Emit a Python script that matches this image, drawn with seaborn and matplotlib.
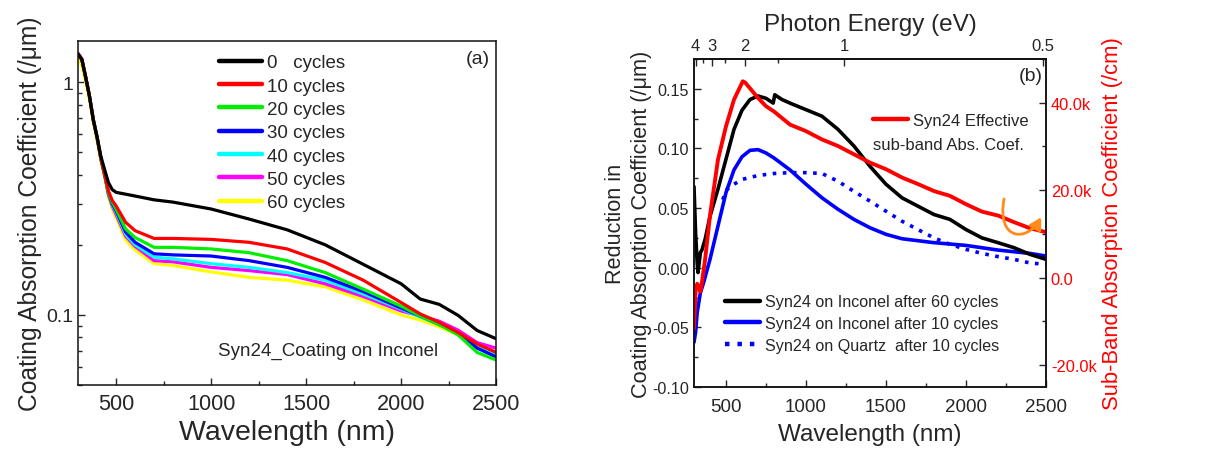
import numpy as np
import pandas as pd
import matplotlib
matplotlib.use("Agg")
import matplotlib.pyplot as plt
from matplotlib.ticker import FixedLocator, NullFormatter, LogLocator, MultipleLocator, FuncFormatter
from matplotlib.patches import FancyArrowPatch
from matplotlib.path import Path
import seaborn as sns

# ---------------- data: panel (a) ----------------
wl_a = [300, 320, 340, 360, 380, 400, 420, 440, 460, 480, 500, 550, 600, 700, 800,
        1000, 1200, 1400, 1600, 1800, 2000, 2100, 2200, 2300, 2400, 2500]
cyc0 = [1.32, 1.25, 1.05, 0.87, 0.69, 0.58, 0.48, 0.42, 0.37, 0.345, 0.336, 0.33, 0.324, 0.312, 0.305,
        0.285, 0.258, 0.232, 0.200, 0.165, 0.136, 0.117, 0.111, 0.0995, 0.0857, 0.079]
cyc10 = [1.32, 1.25, 1.05, 0.87, 0.69, 0.58, 0.47, 0.40, 0.34, 0.31, 0.294, 0.25, 0.23, 0.213, 0.213,
         0.211, 0.205, 0.192, 0.168, 0.141, 0.113, 0.101, 0.093, 0.084, 0.075, 0.069]
cyc20 = [1.32, 1.25, 1.05, 0.87, 0.69, 0.58, 0.47, 0.40, 0.335, 0.305, 0.285, 0.234, 0.215, 0.195, 0.195,
         0.192, 0.185, 0.171, 0.152, 0.129, 0.109, 0.099, 0.091, 0.082, 0.069, 0.064]
cyc30 = [1.32, 1.25, 1.05, 0.87, 0.69, 0.58, 0.47, 0.40, 0.333, 0.30, 0.28, 0.227, 0.205, 0.183, 0.181,
         0.179, 0.171, 0.160, 0.145, 0.126, 0.107, 0.099, 0.091, 0.083, 0.072, 0.066]
cyc40 = [1.32, 1.25, 1.05, 0.87, 0.69, 0.58, 0.47, 0.40, 0.33, 0.297, 0.276, 0.222, 0.200, 0.177, 0.174,
         0.166, 0.160, 0.152, 0.141, 0.123, 0.106, 0.098, 0.091, 0.083, 0.074, 0.068]
cyc50 = [1.33, 1.26, 1.05, 0.87, 0.69, 0.58, 0.47, 0.40, 0.328, 0.293, 0.27, 0.218, 0.197, 0.171, 0.169,
         0.160, 0.155, 0.149, 0.136, 0.120, 0.104, 0.099, 0.094, 0.086, 0.076, 0.072]
cyc60 = [1.25, 1.18, 1.0, 0.84, 0.67, 0.56, 0.46, 0.39, 0.32, 0.285, 0.262, 0.21, 0.190, 0.166, 0.163,
         0.153, 0.145, 0.141, 0.132, 0.116, 0.100, 0.095, 0.089, 0.082, 0.074, 0.069]
labels_a = ["0   cycles", "10 cycles", "20 cycles", "30 cycles", "40 cycles", "50 cycles", "60 cycles"]
colors_a = ["#000000", "#ff0000", "#00ee00", "#0000ff", "#00ffff", "#ff00ff", "#ffff00"]

# ---------------- data: panel (b) ----------------
wl_black = [300, 310, 320, 325, 340, 350, 370, 400, 450, 500, 550, 600, 650, 700, 750, 795, 805, 850, 900,
            1000, 1100, 1200, 1300, 1400, 1500, 1600, 1700, 1800, 1900, 2000, 2100, 2200, 2300, 2400, 2500]
inconel60 = [0.068, 0.029, 0.004, -0.004, 0.0126, 0.015, 0.024, 0.043, 0.066, 0.091, 0.116, 0.132, 0.141, 0.144,
             0.142, 0.138, 0.145, 0.141, 0.138, 0.1325, 0.127, 0.116, 0.102, 0.085, 0.070, 0.0586, 0.0516,
             0.0446, 0.0405, 0.032, 0.025, 0.021, 0.0168, 0.0112, 0.007]
wl_blue = [300, 310, 320, 340, 360, 400, 450, 500, 550, 600, 650, 700, 750, 800, 900, 1000, 1100, 1200,
           1300, 1400, 1500, 1600, 1800, 2000, 2200, 2400, 2500]
inconel10 = [-0.0626, -0.054, -0.0375, -0.021, -0.0125, 0.007, 0.035, 0.063, 0.082, 0.093, 0.0984, 0.099,
             0.0962, 0.092, 0.082, 0.070, 0.0586, 0.049, 0.0405, 0.0335, 0.028, 0.0243, 0.021, 0.0187,
             0.0148, 0.012, 0.0098]
wl_quartz = [480, 500, 550, 600, 700, 800, 900, 1000, 1100, 1200, 1300, 1400, 1500, 1600, 1700, 1800,
             1900, 2000, 2100, 2200, 2300, 2400, 2500]
quartz10 = [0.057, 0.065, 0.070, 0.074, 0.0773, 0.079, 0.0797, 0.0797, 0.079, 0.0725, 0.064, 0.0558, 0.0474,
            0.039, 0.032, 0.025, 0.0196, 0.0154, 0.012, 0.0093, 0.007, 0.004, 0.0028]
wl_red = [300, 310, 320, 330, 340, 350, 370, 400, 450, 500, 550, 605, 620, 650, 700, 750, 800, 900, 1000,
          1100, 1200, 1300, 1400, 1500, 1600, 1700, 1800, 1900, 2000, 2100, 2200, 2300, 2400, 2500]
subband = [-11600, -3250, -1400, -2000, -3200, -1000, 4300, 14200, 27000, 34600, 40700, 44900, 44600, 43300,
           41100, 39200, 38000, 35000, 33500, 31600, 30100, 28200, 26300, 24800, 22900, 21400, 19800, 18700,
           16800, 15100, 14200, 12700, 11300, 10400]
energy_ticks = [4, 3, 2, 1, 0.5]
energy_minor = [3.5, 2.5, 1.5]

# ---------------- style ----------------
sns.set_style("ticks")
plt.rcParams["font.family"] = ["Liberation Sans", "DejaVu Sans"]
plt.rcParams["xtick.direction"] = "in"
plt.rcParams["ytick.direction"] = "in"
plt.rcParams["axes.linewidth"] = 1.1
plt.rcParams["axes.edgecolor"] = "#111111"

fig = plt.figure(figsize=(12.12, 4.52), dpi=100)
ax1 = fig.add_axes([0.0644, 0.146, 0.345, 0.761])
ax2 = fig.add_axes([0.5726, 0.1416, 0.2904, 0.7257])

# ---------------- panel (a) ----------------
rows = []
for lab, vals in zip(labels_a, [cyc0, cyc10, cyc20, cyc30, cyc40, cyc50, cyc60]):
    for w, v in zip(wl_a, vals):
        rows.append({"wl": w, "val": v, "series": lab})
df_a = pd.DataFrame(rows)
for lab in labels_a[::-1]:
    sub = df_a[df_a.series == lab]
    sns.lineplot(data=sub, x="wl", y="val", ax=ax1, color=colors_a[labels_a.index(lab)],
                 lw=2.3, estimator=None, sort=False, label=lab)
ax1.set_yscale("log")
ax1.set_xlim(300, 2500)
ax1.set_ylim(0.05, 1.5)
ax1.yaxis.set_major_locator(FixedLocator([0.1, 1]))
ax1.yaxis.set_major_formatter(FuncFormatter(lambda v, p: "1" if v >= 1 else "0.1"))
ax1.yaxis.set_minor_locator(LogLocator(base=10, subs=np.arange(2, 10)))
ax1.yaxis.set_minor_formatter(NullFormatter())
ax1.xaxis.set_major_locator(FixedLocator([500, 1000, 1500, 2000, 2500]))
ax1.xaxis.set_minor_locator(MultipleLocator(250))
ax1.tick_params(axis="x", which="major", labelsize=15.6, length=5, width=1, pad=6)
ax1.tick_params(axis="y", which="major", labelsize=14, length=5, width=1)
ax1.tick_params(axis="both", which="minor", length=3, width=1)
ax1.set_xlabel("Wavelength (nm)", fontsize=20.5, labelpad=3)
ax1.set_ylabel("Coating Absorption Coefficient (/μm)", fontsize=17.7, labelpad=3)
h, l = ax1.get_legend_handles_labels()
hd = dict(zip(l, h))
leg = ax1.legend([hd[k] for k in labels_a], labels_a, loc="upper left", bbox_to_anchor=(0.305, 1.0),
                 frameon=False, fontsize=13.5, handlelength=2.3, handletextpad=0.3, labelspacing=0.33,
                 borderaxespad=0.3)
for lh in leg.get_lines():
    lh.set_linewidth(3.2)
ax1.text(0.985, 0.975, "(a)", transform=ax1.transAxes, ha="right", va="top", fontsize=14)
ax1.text(0.335, 0.075, "Syn24_Coating on Inconel", transform=ax1.transAxes, ha="left", va="bottom",
         fontsize=13.5)

# ---------------- panel (b) ----------------
sns.lineplot(x=wl_quartz, y=quartz10, ax=ax2, color="#0000ff", lw=2.6, linestyle=(0, (1, 1.8)),
             estimator=None, sort=False, label="Syn24 on Quartz  after 10 cycles")
sns.lineplot(x=wl_blue, y=inconel10, ax=ax2, color="#0000ff", lw=2.6, estimator=None, sort=False,
             label="Syn24 on Inconel after 10 cycles")
sns.lineplot(x=wl_black, y=inconel60, ax=ax2, color="#000000", lw=2.6, estimator=None, sort=False,
             label="Syn24 on Inconel after 60 cycles")
ax2.set_xlim(300, 2500)
ax2.set_ylim(-0.10, 0.175)
ax2.yaxis.set_major_locator(MultipleLocator(0.05))
ax2.yaxis.set_minor_locator(MultipleLocator(0.025))
ax2.yaxis.set_major_formatter(FuncFormatter(lambda v, p: f"{v:.2f}"))
ax2.xaxis.set_major_locator(FixedLocator([500, 1000, 1500, 2000, 2500]))
ax2.xaxis.set_minor_locator(MultipleLocator(250))
ax2.tick_params(axis="x", which="major", labelsize=13.5, length=5, width=1, pad=8)
ax2.tick_params(axis="y", which="major", labelsize=11.6, length=5, width=1)
ax2.tick_params(axis="both", which="minor", length=3, width=1)
ax2.set_xlabel("Wavelength (nm)", fontsize=17.5, labelpad=6)
ax2.set_ylabel("Reduction in\nCoating Absorption Coefficient (/μm)", fontsize=15.6, labelpad=0,
               linespacing=1.3)
h2, l2 = ax2.get_legend_handles_labels()
order_b = ["Syn24 on Inconel after 60 cycles", "Syn24 on Inconel after 10 cycles",
           "Syn24 on Quartz  after 10 cycles"]
d2 = dict(zip(l2, h2))
leg2 = ax2.legend([d2[k] for k in order_b], order_b, loc="lower left", bbox_to_anchor=(0.06, 0.075),
                  frameon=False, fontsize=11.6, handlelength=2.2, handletextpad=0.3, labelspacing=0.42,
                  borderaxespad=0.2)
for lh in leg2.get_lines():
    lh.set_linewidth(3.2)
ax2.text(0.99, 0.975, "(b)", transform=ax2.transAxes, ha="right", va="top", fontsize=14)

# twin axis (red)
ax3 = ax2.twinx()
sns.lineplot(x=wl_red, y=subband, ax=ax3, color="#ff0000", lw=2.8, estimator=None, sort=False,
             label="Syn24 Effective", legend=False)
ax3.set_ylim(-25000, 50000)
ax3.yaxis.set_major_locator(FixedLocator([-20000, 0, 20000, 40000]))
ax3.yaxis.set_minor_locator(MultipleLocator(10000))
ax3.yaxis.set_major_formatter(FuncFormatter(lambda v, p: "0.0" if v == 0 else f"{v/1000:.1f}k"))
ax3.tick_params(axis="y", which="major", labelsize=11.8, length=5, width=1, labelcolor="#ff0000",
                direction="in")
ax3.tick_params(axis="y", which="minor", length=3, width=1, direction="in")
ax3.set_ylabel("Sub-Band Absorption Coefficient (/cm)", fontsize=15.8, color="#ff0000", labelpad=4)
h3, l3 = ax3.get_legend_handles_labels()
leg3 = ax3.legend(h3[:1], ["Syn24 Effective"], loc="upper left", bbox_to_anchor=(0.49, 0.855),
                  frameon=False, fontsize=12, handlelength=2.1, handletextpad=0.3, borderaxespad=0.0)
for lh in leg3.get_lines():
    lh.set_linewidth(3.2)
ax3.text(0.51, 0.715, "sub-band Abs. Coef.", transform=ax2.transAxes, ha="left", va="bottom",
         fontsize=12)

# curved orange annotation arrow
arrow_path = Path([(2238, 18000), (2190, 8500), (2380, 8000), (2470, 13800)],
                  [Path.MOVETO, Path.CURVE4, Path.CURVE4, Path.CURVE4])
arrow = FancyArrowPatch(path=arrow_path, arrowstyle="-|>,head_length=7,head_width=4",
                        color="#ff8c1a", lw=2.0, transform=ax3.transData, zorder=5)
ax3.add_patch(arrow)

# top axis: photon energy
def wl2e(x):
    x = np.asarray(x, dtype=float)
    with np.errstate(divide="ignore", invalid="ignore"):
        return 1240.0 / x
sec = ax2.secondary_xaxis("top", functions=(wl2e, wl2e))
sec.xaxis.set_major_locator(FixedLocator(energy_ticks))
sec.xaxis.set_minor_locator(FixedLocator(energy_minor))
sec.xaxis.set_major_formatter(FuncFormatter(lambda v, p: f"{v:g}"))
sec.tick_params(axis="x", which="major", labelsize=12, length=5, width=1, direction="in", pad=4)
sec.tick_params(axis="x", which="minor", length=3, width=1, direction="in")
sec.set_xlabel("Photon Energy (eV)", fontsize=17.5, labelpad=6)

fig.savefig("out.png", dpi=100)
